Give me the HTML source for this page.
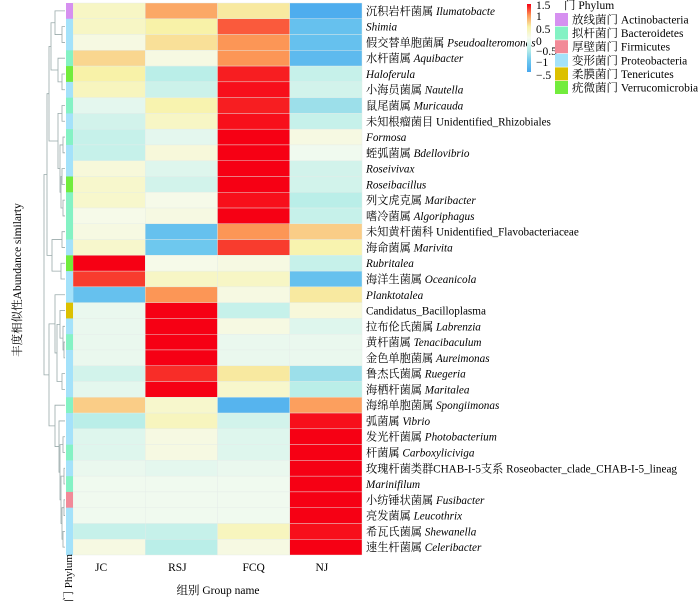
<!DOCTYPE html>
<html><head><meta charset="utf-8">
<style>
body{margin:0;background:#fff;width:700px;height:608px;overflow:hidden;font-family:"Liberation Serif","Noto Serif CJK SC",serif;}
svg text{font-family:"Liberation Serif","Noto Serif CJK SC",serif;}
</style></head><body>
<svg id="chart" width="700" height="608" xmlns="http://www.w3.org/2000/svg">
<g id="dendro" stroke="#9aa" fill="none" stroke-width="0.8"></g>
<g id="cells"></g>
<g id="phy"></g>
<g id="labels" font-size="11.2"></g>
<g id="xlabels" font-size="11.5"></g>
<text x="218" y="594" font-size="11.5" text-anchor="middle">组别 Group name</text>
<text transform="translate(21,280) rotate(-90)" font-size="11.5" text-anchor="middle">丰度相似性Abundance similarty</text>
<text transform="translate(72,602) rotate(-90)" font-size="11">门 Phylum</text>
<g id="legend" font-size="11.5"></g>
</svg>
<script>
const groups=["JC","RSJ","FCQ","NJ"];
const taxaCN=["沉积岩杆菌属 ","","假交替单胞菌属 ","水杆菌属 ","","小海员菌属 ","鼠尾菌属 ","未知根瘤菌目 ","","蛭弧菌属 ","","","列文虎克属 ","嗜冷菌属 ","未知黄杆菌科 ","海命菌属 ","","海洋生菌属 ","","","拉布伦氏菌属 ","黄杆菌属 ","金色单胞菌属 ","鲁杰氏菌属 ","海栖杆菌属 ","海绵单胞菌属 ","弧菌属 ","发光杆菌属 ","杆菌属 ","玫瑰杆菌类群CHAB-I-5支系 ","","小纺锤状菌属 ","亮发菌属 ","希瓦氏菌属 ","速生杆菌属 "];
const taxaLatin=["Ilumatobacte","Shimia","Pseudoalteromonas","Aquibacter","Haloferula","Nautella","Muricauda","Unidentified_Rhizobiales","Formosa","Bdellovibrio","Roseivivax","Roseibacillus","Maribacter","Algoriphagus","Unidentified_Flavobacteriaceae","Marivita","Rubritalea","Oceanicola","Planktotalea","Candidatus_Bacilloplasma","Labrenzia","Tenacibaculum","Aureimonas","Ruegeria","Maritalea","Spongiimonas","Vibrio","Photobacterium","Carboxyliciviga","Roseobacter_clade_CHAB-I-5_lineag","Marinifilum","Fusibacter","Leucothrix","Shewanella","Celeribacter"];
const italic=[1,1,1,1,1,1,1,0,1,1,1,1,1,1,0,1,1,1,1,0,1,1,1,1,1,1,1,1,1,0,1,1,1,1,1];
const valJC=[0.3,0.3,0.1,0.65,0.5,0.35,-0.15,-0.3,-0.4,-0.4,0.15,0.25,0.25,0.05,0.1,0.25,1.5,1.3,-1.1,-0.1,-0.1,-0.1,-0.1,-0.3,-0.15,0.7,-0.5,-0.2,-0.2,-0.1,-0.05,-0.05,-0.05,-0.4,0.1];
const valRSJ=[0.9,0.5,0.6,0.1,-0.5,-0.35,0.45,0.3,-0.15,0.15,-0.2,-0.3,0.05,0.1,-1.1,-1.0,0.05,0.3,1.0,1.5,1.5,1.5,1.5,1.35,1.5,0.25,0.35,0.1,0.1,-0.15,-0.05,-0.05,-0.05,-0.4,-0.5];
const valFCQ=[0.55,1.2,1.0,1.0,1.4,1.45,1.4,1.45,1.5,1.5,1.5,1.5,1.45,1.5,1.0,1.3,0.1,0.3,0.1,-0.4,0.1,-0.1,-0.1,0.55,0.25,-1.3,-0.3,-0.2,-0.2,-0.1,-0.05,-0.05,-0.05,0.35,0.1];
const valNJ=[-1.4,-1.1,-1.1,-1.2,-0.4,-0.3,-0.7,-0.4,0.1,-0.05,-0.3,-0.3,-0.5,-0.4,0.7,0.45,-0.4,-1.1,0.55,0.15,-0.2,-0.1,-0.1,-0.7,-0.5,0.95,1.45,1.5,1.5,1.5,1.5,1.5,1.5,1.45,1.5];
const phylum=["A","P","P","B","V","P","B","P","B","P","P","V","B","B","B","P","V","P","P","T","P","B","P","P","P","B","P","P","B","P","B","F","P","P","P"];
const phyNames=[["A","放线菌门 Actinobacteria"],["B","拟杆菌门 Bacteroidetes"],["F","厚壁菌门 Firmicutes"],["P","变形菌门 Proteobacteria"],["T","柔膜菌门 Tenericutes"],["V","疣微菌门 Verrucomicrobia"]];
const phyCol={A:"#d690f0",B:"#84f2c4",F:"#f28a98",P:"#a4e2fa",T:"#dcc000",V:"#72ec3c"};
const series=[valJC,valRSJ,valFCQ,valNJ];
const X0=73,X1=362,Y0=3,Y1=555;
const cw=(X1-X0)/groups.length, rh=(Y1-Y0)/taxaLatin.length;
const xPos=i=>X0+i*cw, yPos=j=>Y0+j*rh;
const stops=[[-1.5,[70,166,238]],[-1,[110,200,238]],[-0.5,[186,238,232]],[0,[246,251,240]],[0.5,[248,242,168]],[1,[252,150,86]],[1.5,[246,0,20]]];
function col(v){v=Math.max(-1.5,Math.min(1.5,v));for(let k=0;k<stops.length-1;k++){const a=stops[k],b=stops[k+1];if(v<=b[0]){const t=(v-a[0])/(b[0]-a[0]);return "rgb("+a[1].map((c,i)=>Math.round(c+(b[1][i]-c)*t)).join(",")+")";}}return "rgb(246,0,20)";}
const NS="http://www.w3.org/2000/svg";
function mk(t,at,p){const e=document.createElementNS(NS,t);for(const k in at)e.setAttribute(k,at[k]);p.appendChild(e);return e;}
const cells=document.getElementById("cells");
series.forEach((s,i)=>s.forEach((v,j)=>{
 const r=mk("rect",{x:xPos(i),y:yPos(j),width:cw,height:rh,fill:col(v),stroke:"#e4ece8","stroke-width":0.4},cells);
 
 
}));
const phy=document.getElementById("phy");
phylum.forEach((p,j)=>{
 const r=mk("rect",{x:66,y:yPos(j),width:7,height:rh+0.3,fill:phyCol[p]},phy);
 
 
});
const lab=document.getElementById("labels");
taxaLatin.forEach((n,j)=>{
 const t=mk("text",{x:366,y:yPos(j)+rh/2+4},lab);
 
 
 if(taxaCN[j])mk("tspan",{},t).textContent=taxaCN[j];
 const s=mk("tspan",italic[j]?{"font-style":"italic"}:{},t);s.textContent=n;
});
const xl=document.getElementById("xlabels");
groups.forEach((g,i)=>{
 const t=mk("text",{x:xPos(i)+cw/2-(i==0?8:i==1?4:i==3?4:0),y:571,"text-anchor":"middle"},xl);
 t.textContent=g;
 
 
});
const dg=document.getElementById("dendro");
const yc=j=>yPos(j)+rh/2;
let d="";
function node(a,b,x){return {y:(a.y+b.y)/2,x,a,b};}
function leaf(j){return {y:yc(j),x:65};}
function draw(n){if(!n.a)return;d+=`M${n.a.x},${n.a.y}H${n.x}V${n.b.y}H${n.b.x}`;draw(n.a);draw(n.b);}
const L=j=>leaf(j);
const c1=node(L(0),node(L(1),L(2),62),55);
const c2=node(L(3),node(L(4),L(5),62),58);
const c3=node(node(L(6),L(7),62),node(node(L(8),L(9),63),node(node(L(10),L(11),62),node(L(12),L(13),63),61),60),58);
const top1=node(node(c1,c2,51),c3,49);
const c4=node(L(14),L(15),62);
const c5=node(L(16),L(17),61);
const top2=node(top1,node(c4,c5,52),47);
const c6=node(L(18),node(node(L(19),node(L(20),node(L(21),L(22),64),63),60),node(L(23),L(24),62),57),55);
const c7=node(L(25),node(L(26),node(node(L(27),L(28),63),node(node(L(29),L(30),64),node(node(L(31),L(32),64),node(L(33),L(34),63),62),61),60),59),55);
const root=node(top2,node(c6,c7,49),44);
draw(root);
mk("path",{d:d},dg);
const lg=document.getElementById("legend");
const grad=mk("defs",{},lg);
const lgd=mk("linearGradient",{id:"cg",x1:0,y1:1,x2:0,y2:0},grad);
stops.forEach(s=>mk("stop",{offset:(s[0]+1.5)/3,"stop-color":col(s[0])},lgd));
mk("rect",{x:527,y:4,width:4,height:68,fill:"url(#cg)"},lg);
[["1.5",9],["1",20],["0.5",33],["0",45],["−0.5",55],["−1",66],["−.5",79]].forEach(a=>{const t=mk("text",{x:536,y:a[1]},lg);t.textContent=a[0];});
const lt=mk("text",{x:564,y:9},lg);lt.textContent="门 Phylum";
phyNames.forEach((p,k)=>{
 const r=mk("rect",{x:555,y:13+k*13.6,width:13,height:13,fill:phyCol[p[0]]},lg);
 
 
 const t=mk("text",{x:572,y:23.5+k*13.6},lg);t.textContent=p[1];
 
 
});
</script>
</body></html>
